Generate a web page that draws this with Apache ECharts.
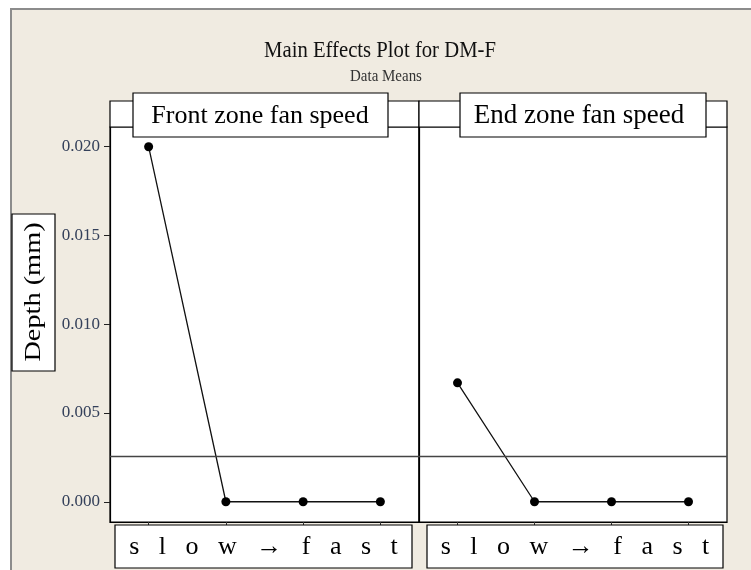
<!DOCTYPE html>
<html>
<head>
<meta charset="utf-8">
<script src="https://cdn.jsdelivr.net/npm/echarts@6/dist/echarts.min.js"></script>
<style>html,body{margin:0;padding:0;background:#fff;}#c{width:751px;height:570px;}</style>
</head>
<body>
<div id="c"></div>
<script>
// ---- data ----
const levels = ['1', '2', '3', '4'];
const frontZoneFan = [0.020, 0.0, 0.0, 0.0];
const endZoneFan = [0.0067, 0.0, 0.0, 0.0];
const yTickValues = [0, 0.005, 0.010, 0.015, 0.020];
const grandMean = 0.0026;
const panelTitles = ['Front zone fan speed', 'End zone fan speed'];
const axisLevelText = 's   l   o   w   \u2192   f   a   s   t';

// ---- layout ----
const SERIF = '"Liberation Serif", "Times New Roman", serif';
const gTop = 127, gBottom = 522, stripTop = 101;
const panels = [{ left: 110, right: 419 }, { left: 419, right: 727 }];
const yMin = -0.00114, yMax = 0.02111;

const chart = echarts.init(document.getElementById('c'), null, { renderer: 'canvas' });

function yAxisCfg(showLabels) {
  return {
    type: 'value', min: yMin, max: yMax,
    axisLine: { show: true, onZero: false, lineStyle: { color: '#000', width: 1.2 } },
    axisTick: { show: showLabels, length: 6, customValues: yTickValues, lineStyle: { color: '#222' } },
    axisLabel: {
      show: showLabels, customValues: yTickValues, margin: 10,
      formatter: v => v.toFixed(3),
      fontFamily: SERIF, fontSize: 17, color: '#34405a'
    },
    splitLine: { show: false }
  };
}
function xAxisCfg(i) {
  return {
    type: 'category', gridIndex: i, data: levels, boundaryGap: true,
    axisLine: { show: true, onZero: false, lineStyle: { color: '#000', width: 1.2 } },
    axisTick: { show: true, alignWithLabel: true, length: 3, lineStyle: { color: '#333' } },
    axisLabel: { show: false },
    splitLine: { show: false }
  };
}
function seriesCfg(i, data) {
  return {
    type: 'line', xAxisIndex: i, yAxisIndex: i, data: data,
    symbol: 'circle', symbolSize: 9, showSymbol: true,
    itemStyle: { color: '#000' },
    lineStyle: { color: '#111', width: 1.3 },
    animation: false, z: 5
  };
}

const graphics = [
  { type: 'rect', z: -100, shape: { x: 11, y: 9, width: 800, height: 620 },
    style: { fill: '#f0ebe1', stroke: '#8c8c8c', lineWidth: 2 } },
  { type: 'text', z: 100, x: 380, y: 51, scaleX: 0.9,
    style: { text: 'Main Effects Plot for DM-F', font: '23px ' + SERIF, fill: '#111', textAlign: 'center', textVerticalAlign: 'middle' } },
  { type: 'text', z: 100, x: 386, y: 77, scaleX: 0.88,
    style: { text: 'Data Means', font: '17px ' + SERIF, fill: '#333', textAlign: 'center', textVerticalAlign: 'middle' } },
  { type: 'rect', z: 100, shape: { x: 12, y: 214, width: 43, height: 157 },
    style: { fill: '#fff', stroke: '#000', lineWidth: 1.2 } },
  { type: 'text', z: 101, x: 34, y: 292, rotation: Math.PI / 2, scaleX: 1.18,
    style: { text: 'Depth (mm)', font: '24px ' + SERIF, fill: '#000', textAlign: 'center', textVerticalAlign: 'middle' } }
];

const boxes = [
  { strip: panels[0], title: { x: 133, w: 255, cx: 260, fs: 26 }, bottom: { x: 115, w: 297 } },
  { strip: panels[1], title: { x: 460, w: 246, cx: 579, fs: 27 }, bottom: { x: 427, w: 296 } }
];
boxes.forEach((b, i) => {
  graphics.push({ type: 'rect', z: 100, shape: { x: b.strip.left, y: stripTop, width: b.strip.right - b.strip.left, height: gTop - stripTop },
    style: { fill: '#fff', stroke: '#000', lineWidth: 1.2 } });
  graphics.push({ type: 'rect', z: 101, shape: { x: b.title.x, y: 93, width: b.title.w, height: 44 },
    style: { fill: '#fff', stroke: '#000', lineWidth: 1.2 } });
  graphics.push({ type: 'text', z: 102, x: b.title.cx, y: 116,
    style: { text: panelTitles[i], font: b.title.fs + 'px ' + SERIF, fill: '#000', textAlign: 'center', textVerticalAlign: 'middle' } });
  graphics.push({ type: 'rect', z: 100, shape: { x: b.bottom.x, y: 525, width: b.bottom.w, height: 43 },
    style: { fill: '#fff', stroke: '#000', lineWidth: 1.2 } });
  graphics.push({ type: 'text', z: 101, x: b.bottom.x + b.bottom.w / 2, y: 547,
    style: { text: axisLevelText, font: '26px ' + SERIF, fill: '#000', textAlign: 'center', textVerticalAlign: 'middle' } });
});

chart.setOption({
  backgroundColor: '#fff',
  animation: false,
  grid: panels.map(p => ({
    left: p.left, width: p.right - p.left, top: gTop, height: gBottom - gTop,
    show: true, backgroundColor: '#fff', borderColor: '#000', borderWidth: 1.2, containLabel: false
  })),
  xAxis: [xAxisCfg(0), xAxisCfg(1)],
  yAxis: [Object.assign({ gridIndex: 0 }, yAxisCfg(true)), Object.assign({ gridIndex: 1 }, yAxisCfg(false))],
  series: [seriesCfg(0, frontZoneFan), seriesCfg(1, endZoneFan)]
});

// grand-mean reference line, positioned through the library's y scale
panels.forEach((p, i) => {
  const y = Math.round(chart.convertToPixel({ yAxisIndex: i }, grandMean)) + 0.5;
  graphics.push({ type: 'line', z: 50, shape: { x1: p.left, y1: y, x2: p.right, y2: y },
    style: { stroke: '#444', lineWidth: 1.5 } });
});
chart.setOption({ graphic: graphics });
</script>
</body>
</html>
